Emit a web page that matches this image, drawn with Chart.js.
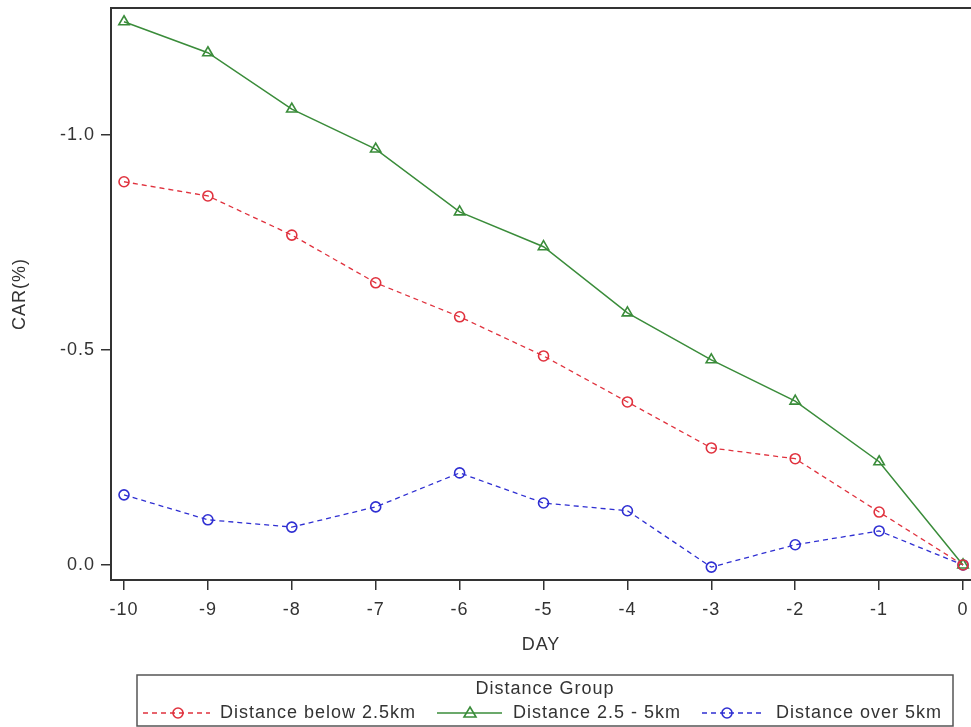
<!DOCTYPE html>
<html>
<head>
<meta charset="utf-8">
<script src="https://cdn.jsdelivr.net/npm/chart.js@4"></script>
<style>
  html, body { margin: 0; padding: 0; background: #fff; }
  #wrap { width: 971px; height: 727px; position: relative; }
</style>
</head>
<body>
<div id="wrap"><canvas id="carChart" width="971" height="727"></canvas></div>
<script>
// days and CAR values
let days = [-10, -9, -8, -7, -6, -5, -4, -3, -2, -1, 0];
let below25 = [-0.891, -0.858, -0.767, -0.656, -0.577, -0.486, -0.379, -0.272, -0.247, -0.123, 0.0];
let mid25to5 = [-1.263, -1.191, -1.060, -0.967, -0.821, -0.740, -0.586, -0.477, -0.381, -0.240, 0.0];
let over5 = [-0.163, -0.105, -0.088, -0.135, -0.214, -0.144, -0.126, 0.005, -0.047, -0.079, 0.0];

let yTicks = [-1.0, -0.5, 0.0];
let xTicks = days;
let groupNames = ['Distance below 2.5km', 'Distance 2.5 - 5km', 'Distance over 5km'];
let legendTitle = 'Distance Group';

const red = '#e0323e';
const green = '#3a8c3a';
const blue = '#2f2fd2';
const ink = '#333333';
const FONT = 'Liberation Sans, Arial, sans-serif';

function toPoints(vals) {
    return days.map((d, i) => ({ x: d, y: vals[i] }));
}

// letter spacing to match the wide look of the original text
const spacing = {
    id: 'spacing',
    beforeUpdate(chart) { chart.ctx.letterSpacing = '1px'; },
    beforeDraw(chart) { chart.ctx.letterSpacing = '1px'; }
};

// top frame line + boxed legend at the bottom
const frameAndLegend = {
    id: 'frameAndLegend',
    afterDraw(chart) {
        const ctx = chart.ctx;
        const a = chart.chartArea;
        ctx.save();
        ctx.letterSpacing = '1px';
        ctx.strokeStyle = ink;
        ctx.lineWidth = 2;
        ctx.beginPath();
        ctx.moveTo(a.left, a.top);
        ctx.lineTo(a.right, a.top);
        ctx.stroke();

        // legend box
        ctx.lineWidth = 1.5;
        ctx.strokeStyle = '#555';
        ctx.strokeRect(137, 675, 816, 51);

        ctx.fillStyle = ink;
        ctx.font = '18px ' + FONT;
        ctx.textBaseline = 'middle';
        ctx.textAlign = 'center';
        ctx.fillText(legendTitle, 545, 689);

        const items = [
            { x0: 143, x1: 210, mx: 178, tx: 220, color: red, dash: [5, 4], style: 'circle' },
            { x0: 437, x1: 502, mx: 470, tx: 513, color: green, dash: [], style: 'triangle' },
            { x0: 702, x1: 765, mx: 727, tx: 776, color: blue, dash: [5, 4], style: 'circle' }
        ];
        const ly = 713;
        items.forEach((it, i) => {
            ctx.strokeStyle = it.color;
            ctx.lineWidth = 1.3;
            ctx.setLineDash(it.dash);
            ctx.beginPath();
            ctx.moveTo(it.x0, ly);
            ctx.lineTo(it.x1, ly);
            ctx.stroke();
            ctx.setLineDash([]);
            ctx.lineWidth = 1.6;
            ctx.beginPath();
            if (it.style === 'circle') {
                ctx.arc(it.mx, ly, 5, 0, Math.PI * 2);
            } else {
                ctx.moveTo(it.mx, ly - 6);
                ctx.lineTo(it.mx + 6, ly + 4);
                ctx.lineTo(it.mx - 6, ly + 4);
                ctx.closePath();
            }
            ctx.stroke();
            ctx.fillStyle = ink;
            ctx.textAlign = 'left';
            ctx.fillText(groupNames[i], it.tx, ly);
        });
        ctx.restore();
    }
};

const carChart = document.querySelector('#carChart');

new Chart(carChart, {
    type: 'line',
    data: {
        datasets: [{
            label: groupNames[0],
            data: toPoints(below25),
            borderColor: red,
            borderWidth: 1.3,
            borderDash: [5, 4],
            pointStyle: 'circle',
            pointRadius: 5,
            pointBorderWidth: 1.6,
            pointBorderColor: red,
            pointBackgroundColor: 'rgba(0,0,0,0)',
            tension: 0
        }, {
            label: groupNames[1],
            data: toPoints(mid25to5),
            borderColor: green,
            borderWidth: 1.5,
            pointStyle: 'triangle',
            pointRadius: 6,
            pointBorderWidth: 1.6,
            pointBorderColor: green,
            pointBackgroundColor: 'rgba(0,0,0,0)',
            tension: 0
        }, {
            label: groupNames[2],
            data: toPoints(over5),
            borderColor: blue,
            borderWidth: 1.3,
            borderDash: [5, 4],
            pointStyle: 'circle',
            pointRadius: 5,
            pointBorderWidth: 1.6,
            pointBorderColor: blue,
            pointBackgroundColor: 'rgba(0,0,0,0)',
            tension: 0
        }]
    },
    options: {
        responsive: false,
        animation: false,
        layout: { autoPadding: false, padding: { top: 8, left: 0, right: 0, bottom: 69 } },
        plugins: {
            legend: { display: false },
            tooltip: { enabled: false }
        },
        scales: {
            x: {
                type: 'linear',
                min: -10.155,
                max: 0.095,
                afterBuildTicks: (scale) => { scale.ticks = xTicks.map(v => ({ value: v })); },
                afterFit: (scale) => {
                    scale.height = 78;
                    scale.paddingLeft = 0;
                    scale.paddingRight = 0;
                },
                ticks: {
                    color: ink,
                    font: { family: FONT, size: 18 },
                    padding: 9,
                    maxRotation: 0,
                    autoSkip: false,
                    callback: (v) => String(v)
                },
                grid: { display: true, drawOnChartArea: false, drawTicks: true, tickLength: 10, color: ink, lineWidth: 1.5 },
                border: { display: true, color: ink, width: 2 },
                title: { display: true, text: 'DAY', color: ink, font: { family: FONT, size: 18 }, padding: { top: 4, bottom: 2 } }
            },
            y: {
                reverse: true,
                min: -1.295,
                max: 0.035,
                afterBuildTicks: (scale) => { scale.ticks = yTicks.map(v => ({ value: v })); },
                afterFit: (scale) => {
                    scale.width = 111;
                    scale.paddingTop = 0;
                    scale.paddingBottom = 0;
                },
                ticks: {
                    color: ink,
                    font: { family: FONT, size: 18 },
                    padding: 6,
                    callback: (v) => Number(v).toFixed(1)
                },
                grid: { display: true, drawOnChartArea: false, drawTicks: true, tickLength: 10, color: ink, lineWidth: 1.5 },
                border: { display: true, color: ink, width: 2 },
                title: { display: true, text: 'CAR(%)', color: ink, font: { family: FONT, size: 18 }, padding: { top: 9, bottom: 4 } }
            }
        }
    },
    plugins: [spacing, frameAndLegend]
});
</script>
</body>
</html>
